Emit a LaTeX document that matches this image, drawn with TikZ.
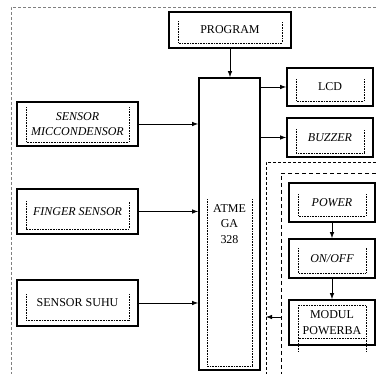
\documentclass[tikz,border=0pt]{standalone}
\usepackage{fontspec}
\setmainfont{Liberation Serif}
\usetikzlibrary{arrows.meta}
\newcommand\dotinner[4]{\draw[dots] ([shift={(#3,#2)}]#1.north west) -- ([shift={(#3,-#4)}]#1.south west) -- ([shift={(-#3,-#4)}]#1.south east) -- ([shift={(-#3,#2)}]#1.north east);}
\begin{document}
\begin{tikzpicture}[x=1pt,y=-1pt,
  blk/.style={draw,line width=1.7pt,inner sep=0pt,align=center,font=\fontsize{12}{15.5}\selectfont},
  arr/.style={line width=0.8pt,-{Latex[length=6pt,width=4.5pt]}},
  dots/.style={line width=0.6pt,densely dotted},
  outerdash/.style={gray,line width=0.8pt,dash pattern=on 3pt off 2pt},
  middash/.style={line width=0.7pt,dash pattern=on 3pt off 2pt},
  innerdash/.style={line width=0.7pt,dash pattern=on 4pt off 3pt}]
\useasboundingbox (0,0) rectangle (376,374);
\draw[outerdash] (376,7) -- (11,7) -- (11,374);
\draw[middash] (376,162) -- (266,162) -- (266,374);
\draw[innerdash] (376,173) -- (281,173) -- (281,374);

\node[blk,minimum width=122pt,minimum height=36pt] (prog) at (230,30) {PROGRAM};
\node[blk,minimum width=61pt,minimum height=292pt] (atm) at (229.5,224) {ATME\\GA\\328};
\node[blk,minimum width=86pt,minimum height=38pt] (lcd) at (330,87) {LCD};
\node[blk,minimum width=86pt,minimum height=39pt] (buz) at (330,137.5) {\textit{BUZZER}};
\node[blk,minimum width=121pt,minimum height=44pt] (mic) at (77.5,124) {\textit{SENSOR}\\\textit{MICCONDENSOR}};
\node[blk,minimum width=121pt,minimum height=45pt] (fin) at (77.5,211.5) {\textit{FINGER SENSOR}};
\node[blk,minimum width=121pt,minimum height=46pt] (suhu) at (77.5,303) {SENSOR SUHU};
\node[blk,minimum width=86pt,minimum height=39pt] (pow) at (332,202.5) {\textit{POWER}};
\node[blk,minimum width=86pt,minimum height=39pt] (onoff) at (332,258.5) {\textit{ON/OFF}};
\node[blk,minimum width=86pt,minimum height=45pt] (mod) at (332,322.5) {MODUL\\POWERBA};

\dotinner{prog}{10}{10}{6}
\dotinner{atm}{122}{9}{5}
\dotinner{lcd}{12}{10}{6}
\dotinner{buz}{12}{10}{5}
\dotinner{mic}{6}{10}{5}
\dotinner{fin}{13}{10}{6}
\dotinner{suhu}{15}{10}{7}
\dotinner{pow}{12}{10}{7}
\dotinner{onoff}{10}{10}{6}
\draw[dots] (298,305) rectangle (366,338);
\draw[dots] (298,338) -- (298,352);
\draw[dots] (366,338) -- (366,352);

\draw[arr] (prog.south) -- (prog.south |- atm.north);
\draw[arr] (mic.east) -- (mic.east -| atm.west);
\draw[arr] (fin.east) -- (fin.east -| atm.west);
\draw[arr] (suhu.east) -- (suhu.east -| atm.west);
\draw[arr] (lcd.west -| atm.east) -- (lcd.west);
\draw[arr] (buz.west -| atm.east) -- (buz.west);
\draw[arr] (pow.south) -- (onoff.north);
\draw[arr] (onoff.south) -- (mod.north);
\coordinate (pin) at (281,317);
\coordinate (pout) at (266,317);
\draw[arr] (pin) -- (pout);
\end{tikzpicture}
\end{document}
